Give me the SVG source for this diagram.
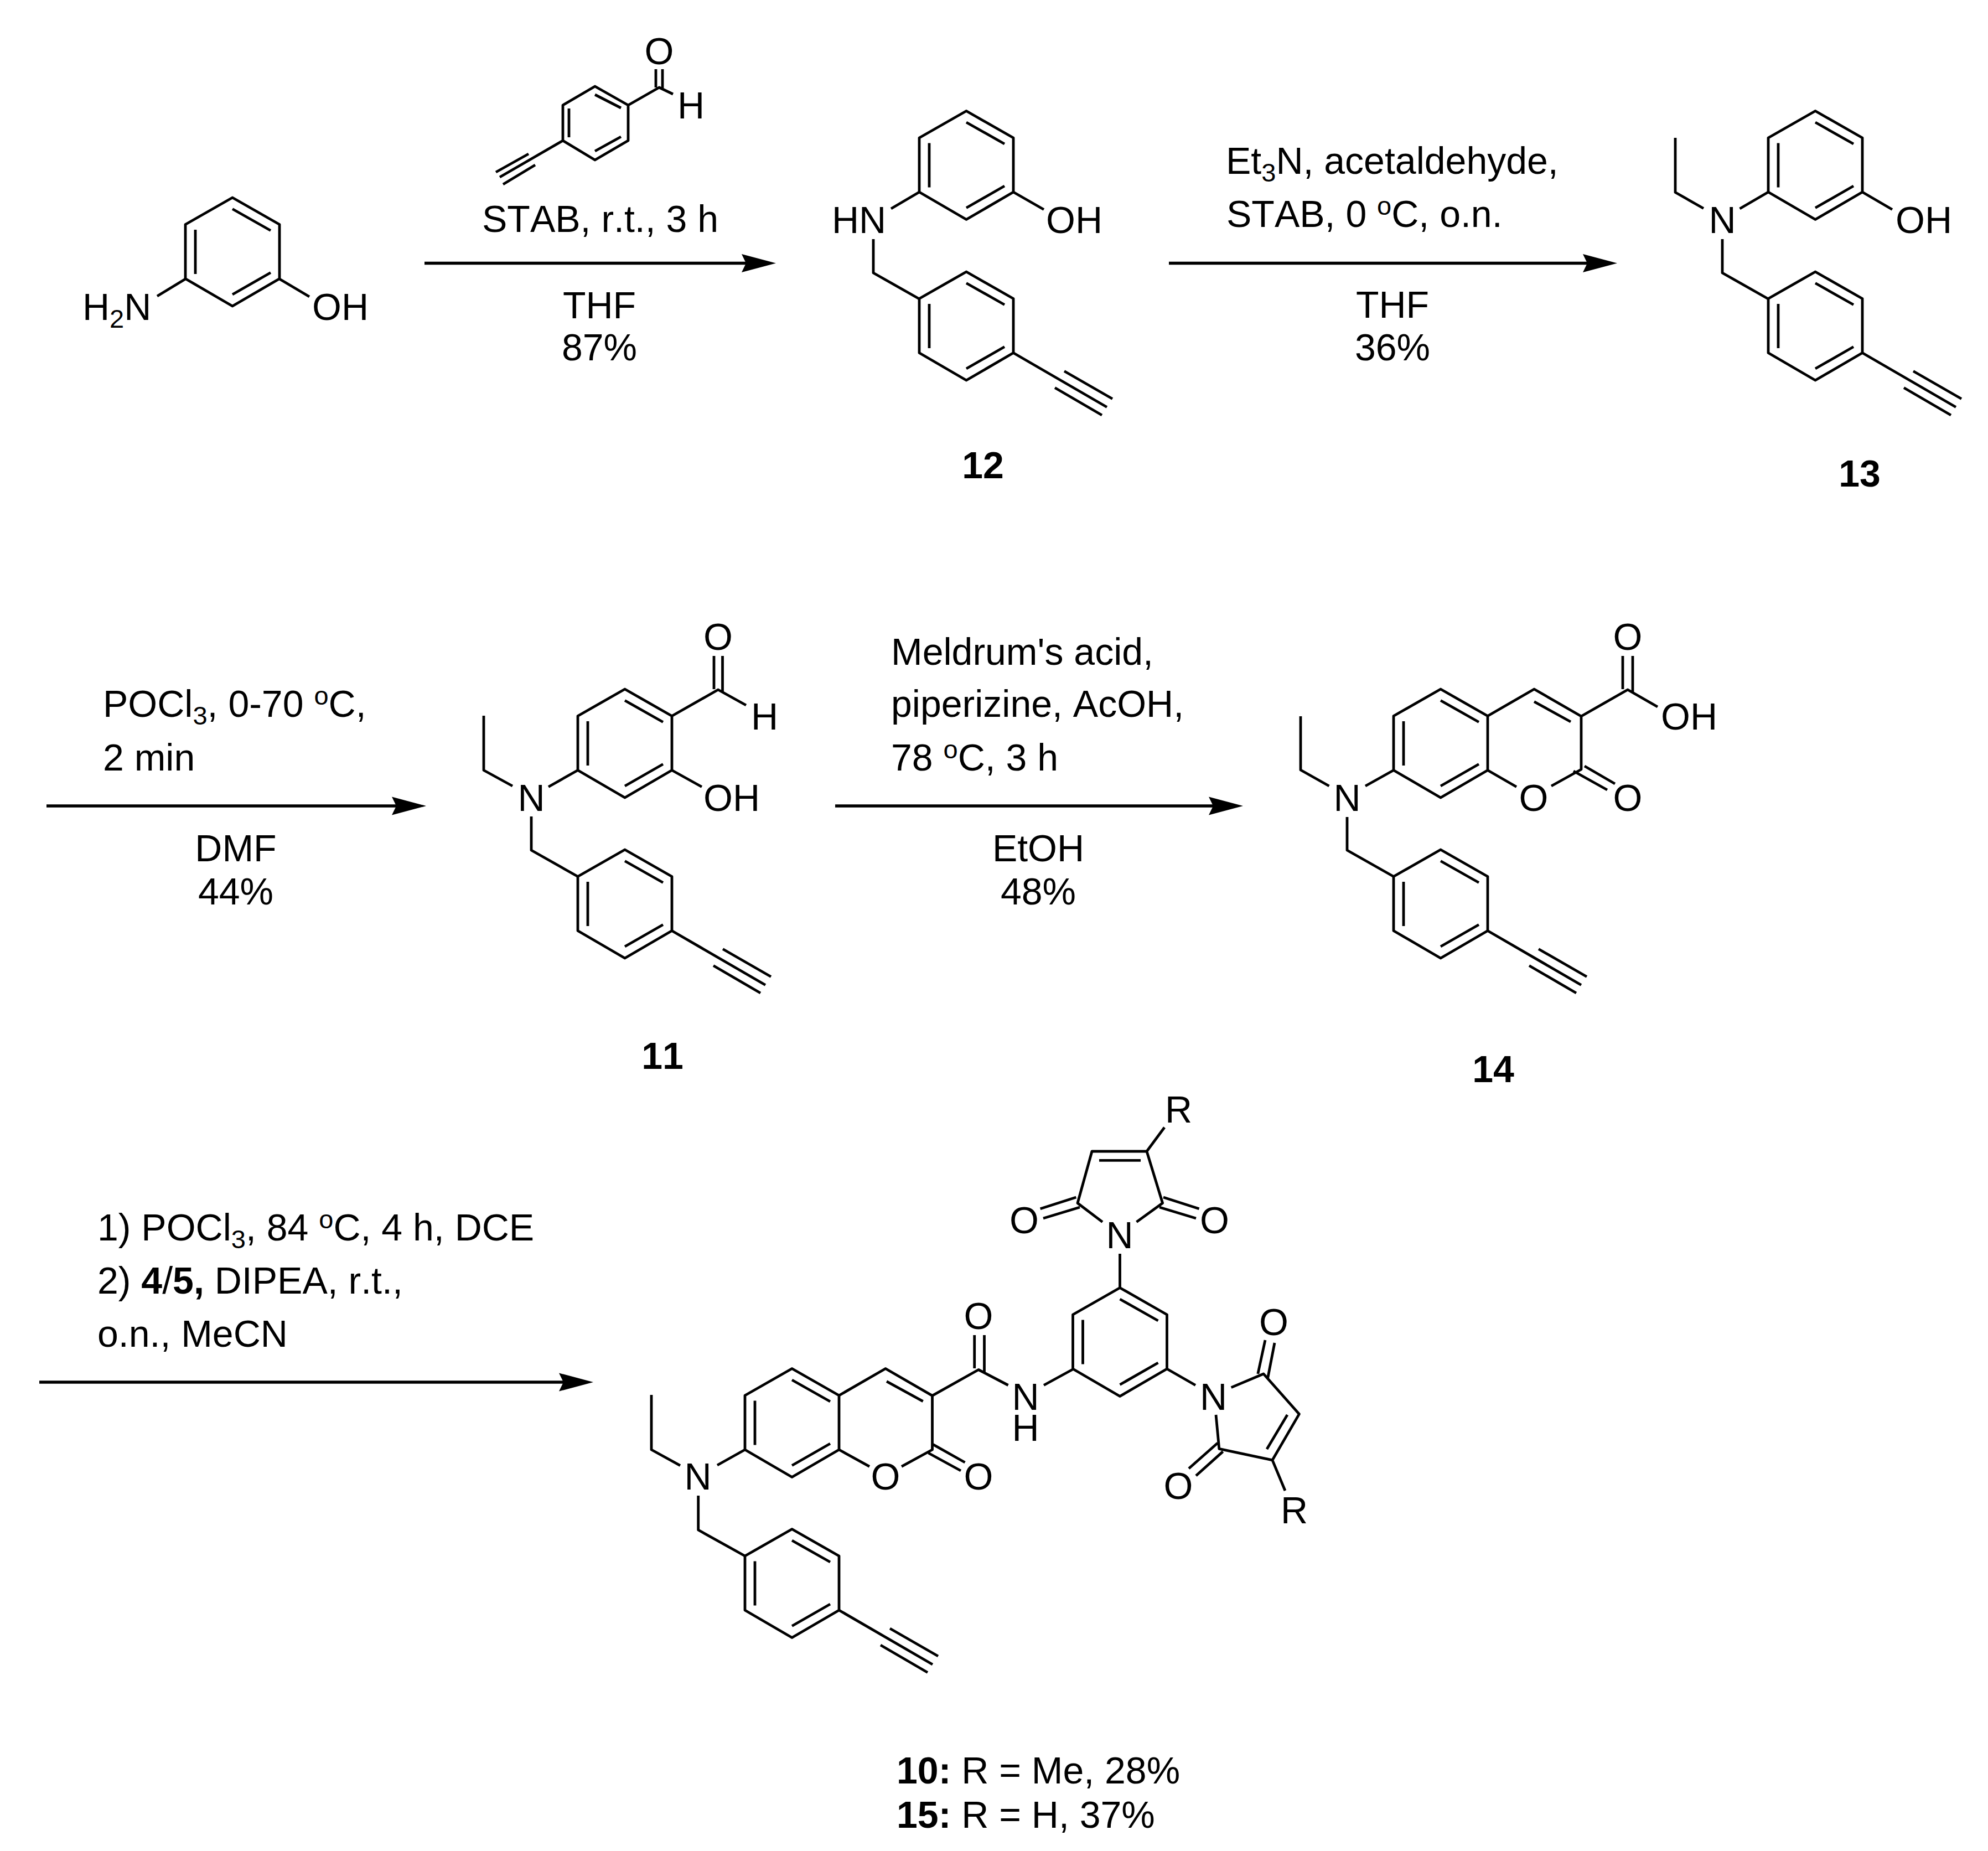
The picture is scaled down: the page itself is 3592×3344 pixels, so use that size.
<svg xmlns="http://www.w3.org/2000/svg" width="3592" height="3344" viewBox="0 0 3592 3344">
<style>
text{font-family:"Liberation Sans",Arial,sans-serif;font-size:68px;fill:#000;font-kerning:none}
.m{text-anchor:middle}
.bd{font-weight:bold}
.s{font-size:47px}
.bond,.bond path{fill:none;stroke:#000;stroke-width:4.8;stroke-linejoin:round}
.arrow{fill:none;stroke:#000;stroke-width:5.5}
</style>
<defs>
<marker id="head" markerUnits="userSpaceOnUse" markerWidth="64" markerHeight="34" refX="8" refY="17" orient="auto"><path d="M0,0.5 L62,17 L0,33.5 L8,17Z" fill="#000"/></marker>
<g id="ar" class="bond"><path d="M0,0 L85,48.5 V146.5 L0,196 L-85,146.5 V48.5Z"/><path d="M0,20.5 L69,59.5 M-67,58 V138 M69,135.5 L0,175"/></g>
<path id="yne" class="bond" d="M85,146.5 L254,244.5 M177,179.5 L264,229.5 M160,209.5 L245,259"/>
</defs>
<rect width="3592" height="3344" fill="#fff"/>

<g id="connectors">
<line class="arrow" x1="767" y1="475.5" x2="1348" y2="475.5" marker-end="url(#head)"/>
<line class="arrow" x1="2112" y1="475.5" x2="2868" y2="475.5" marker-end="url(#head)"/>
<line class="arrow" x1="84" y1="1456" x2="716" y2="1456" marker-end="url(#head)"/>
<line class="arrow" x1="1509" y1="1456" x2="2192" y2="1456" marker-end="url(#head)"/>
<line class="arrow" x1="71" y1="2497" x2="1018" y2="2497" marker-end="url(#head)"/>
</g>

<g id="aminophenol">
<use href="#ar" x="420" y="357"/>
<path class="bond" d="M335,504 L284,535 M505,504 L559,536"/>
<text x="149" y="578">H<tspan class="s" dy="14">2</tspan><tspan dy="-14">N</tspan></text>
<text x="564" y="578">OH</text>
</g>

<g id="reagent-1">
<path class="bond" d="M1075,156 L1135,190 V254 L1075,289 L1017,254 V190Z M1075,171 L1122,195 M1028,196 V248 M1122,247 L1075,273 M1135,190 L1191,158 L1216,170 M1185,125 V158 M1197,125 V162 M1017,254 L903,320 M955,278 L896,311 M967,298 L909,333"/>
<text class="m" x="1191" y="116">O</text>
<text x="1224" y="214">H</text>
<text x="871" y="419">STAB, r.t., 3 h</text>
<text class="m" x="1083" y="575">THF</text>
<text class="m" x="1083" y="651">87%</text>
</g>

<g id="compound-12">
<use href="#ar" x="1746" y="200.5"/><use href="#ar" x="1746" y="491"/><use href="#yne" x="1746" y="491"/>
<path class="bond" d="M1661,347 L1610,377 M1831,347 L1886,378.5 M1578,432 V493 L1661,540"/>
<text x="1503" y="421">HN</text>
<text x="1890" y="421">OH</text>
<text class="m bd" x="1776" y="864">12</text>
</g>

<g id="reagent-2">
<text x="2215" y="314">Et<tspan class="s" dy="14">3</tspan><tspan dy="-14">N, acetaldehyde,</tspan></text>
<text x="2216" y="410">STAB, 0 <tspan class="s" dy="-22">o</tspan><tspan dy="22">C, o.n.</tspan></text>
<text class="m" x="2516" y="574">THF</text>
<text class="m" x="2516" y="651">36%</text>
</g>

<g id="compound-13">
<use href="#ar" x="3280" y="200.5"/><use href="#ar" x="3280" y="491"/><use href="#yne" x="3280" y="491"/>
<path class="bond" d="M3195,347 L3143.5,377 M3365,347 L3419,378.5 M3027,249 V347.5 L3078,376.5 M3112,432 V493 L3195,540"/>
<text class="m" x="3112" y="421">N</text>
<text x="3425" y="421">OH</text>
<text class="m bd" x="3360" y="879">13</text>
</g>

<g id="reagent-3">
<text x="186" y="1295">POCl<tspan class="s" dy="14">3</tspan><tspan dy="-14">, 0-70 </tspan><tspan class="s" dy="-22">o</tspan><tspan dy="22">C,</tspan></text>
<text x="186" y="1392">2 min</text>
<text class="m" x="426" y="1556">DMF</text>
<text class="m" x="426" y="1634">44%</text>
</g>

<g id="compound-11">
<use href="#ar" x="1129" y="1245"/><use href="#ar" x="1129" y="1535"/><use href="#yne" x="1129" y="1535"/>
<path class="bond" d="M1214,1293.5 L1297.5,1246 L1348,1274 M1290,1185 V1245 M1305.5,1185 V1250 M1214,1391.5 L1268,1421.5 M1044,1391.5 L991,1421.5 M874,1293 V1391.5 L926,1420 M960,1475 V1536 L1044,1583.5"/>
<text class="m" x="1297.5" y="1174">O</text>
<text x="1357" y="1318">H</text>
<text x="1271" y="1464.5">OH</text>
<text class="m" x="960" y="1464.5">N</text>
<text class="m bd" x="1197" y="1931">11</text>
</g>

<g id="reagent-4">
<text x="1610" y="1200.5">Meldrum's acid,</text>
<text x="1610" y="1295">piperizine, AcOH,</text>
<text x="1610" y="1392">78 <tspan class="s" dy="-22">o</tspan><tspan dy="22">C, 3 h</tspan></text>
<text class="m" x="1876" y="1556">EtOH</text>
<text class="m" x="1876" y="1634">48%</text>
</g>

<g id="compound-14">
<use href="#ar" x="2603" y="1245"/><use href="#ar" x="2603" y="1535"/><use href="#yne" x="2603" y="1535"/>
<path class="bond" d="M2688,1293.5 L2772,1245 L2857,1294 V1390 L2803,1420 M2688,1391.5 L2740,1421.5 M2772,1267.6 L2838,1304 M2843,1393 L2904,1427 M2863,1384 L2918,1416 M2857,1294 L2941,1246 L2995,1277 M2932,1185 V1245 M2950,1185 V1250 M2518,1391.5 L2467,1420 M2350,1294 V1391 L2401.5,1420 M2434,1476 V1536 L2518,1583.5"/>
<text class="m" x="2771" y="1464.5">O</text>
<text class="m" x="2941" y="1464.5">O</text>
<text class="m" x="2941" y="1174">O</text>
<text x="3001" y="1318">OH</text>
<text class="m" x="2434" y="1464.5">N</text>
<text class="m bd" x="2698" y="1955">14</text>
</g>

<g id="reagent-5">
<text x="176" y="2241">1) POCl<tspan class="s" dy="14">3</tspan><tspan dy="-14">, 84 </tspan><tspan class="s" dy="-22">o</tspan><tspan dy="22">C, 4 h, DCE</tspan></text>
<text x="176" y="2337">2) <tspan class="bd">4</tspan>/<tspan class="bd">5,</tspan> DIPEA, r.t.,</text>
<text x="176" y="2433">o.n., MeCN</text>
</g>

<g id="compound-10-15">
<use href="#ar" x="1431" y="2472.5"/><use href="#ar" x="1431" y="2762.5"/><use href="#yne" x="1431" y="2762.5"/><use href="#ar" x="2023.5" y="2326.5"/>
<path class="bond" d="M1516,2521 L1600,2472.5 L1684.5,2521.4 V2619 L1629,2649.4 M1516,2619 L1571,2649.4 M1602,2495.6 L1667.7,2531.7 M1677.5,2625 L1736,2657 M1686,2609.7 L1743.5,2642 M1684.5,2521.4 L1768,2474.5 L1821.6,2502.5 M1760.7,2412 V2472 M1778.5,2412 V2479 M1886,2502.5 L1939,2473.5 M1346,2619 L1296,2647 M1177,2520 V2619 L1229,2647.7 M1261.7,2702 V2764 L1346,2811"/>
<path class="bond" d="M2023.5,2326.5 V2265 M1992,2207.6 L1947,2173.5 L1973,2080 H2072 L2100.6,2173.5 L2053.5,2207.6 M1986,2096.4 H2061 M1879.6,2183.7 L1944.4,2163 M1885,2201 L1951,2181 M2102,2163 L2166.6,2183.7 M2095,2181 L2161,2201 M2072,2080 L2104,2036.7"/>
<path class="bond" d="M2108.5,2473 L2160,2502.5 M2224.6,2506.6 L2283,2482 L2347.4,2554.6 L2299,2637.8 L2202.8,2617.3 L2197,2556 M2326,2556 L2289,2618 M2286,2421 L2272.8,2482 M2303,2426 L2290.6,2490 M2200,2607 L2148,2653 M2209.6,2622.4 L2161,2666 M2299,2637.8 L2322,2693"/>
<text class="m" x="1600" y="2691">O</text>
<text class="m" x="1768" y="2691">O</text>
<text class="m" x="1768" y="2400.5">O</text>
<text class="m" x="1853" y="2547">N<tspan x="1853" dy="56">H</tspan></text>
<text class="m" x="1261" y="2691">N</text>
<text class="m" x="2023" y="2255">N</text>
<text class="m" x="1850.5" y="2228">O</text>
<text class="m" x="2194.5" y="2228">O</text>
<text x="2105" y="2028">R</text>
<text class="m" x="2192.5" y="2547">N</text>
<text class="m" x="2301.5" y="2411.5">O</text>
<text class="m" x="2129" y="2708">O</text>
<text x="2314" y="2751.5">R</text>
<text x="1620" y="3222"><tspan class="bd">10:</tspan> R = Me, 28%</text>
<text x="1620" y="3301.5"><tspan class="bd">15:</tspan> R = H, 37%</text>
</g>
</svg>
